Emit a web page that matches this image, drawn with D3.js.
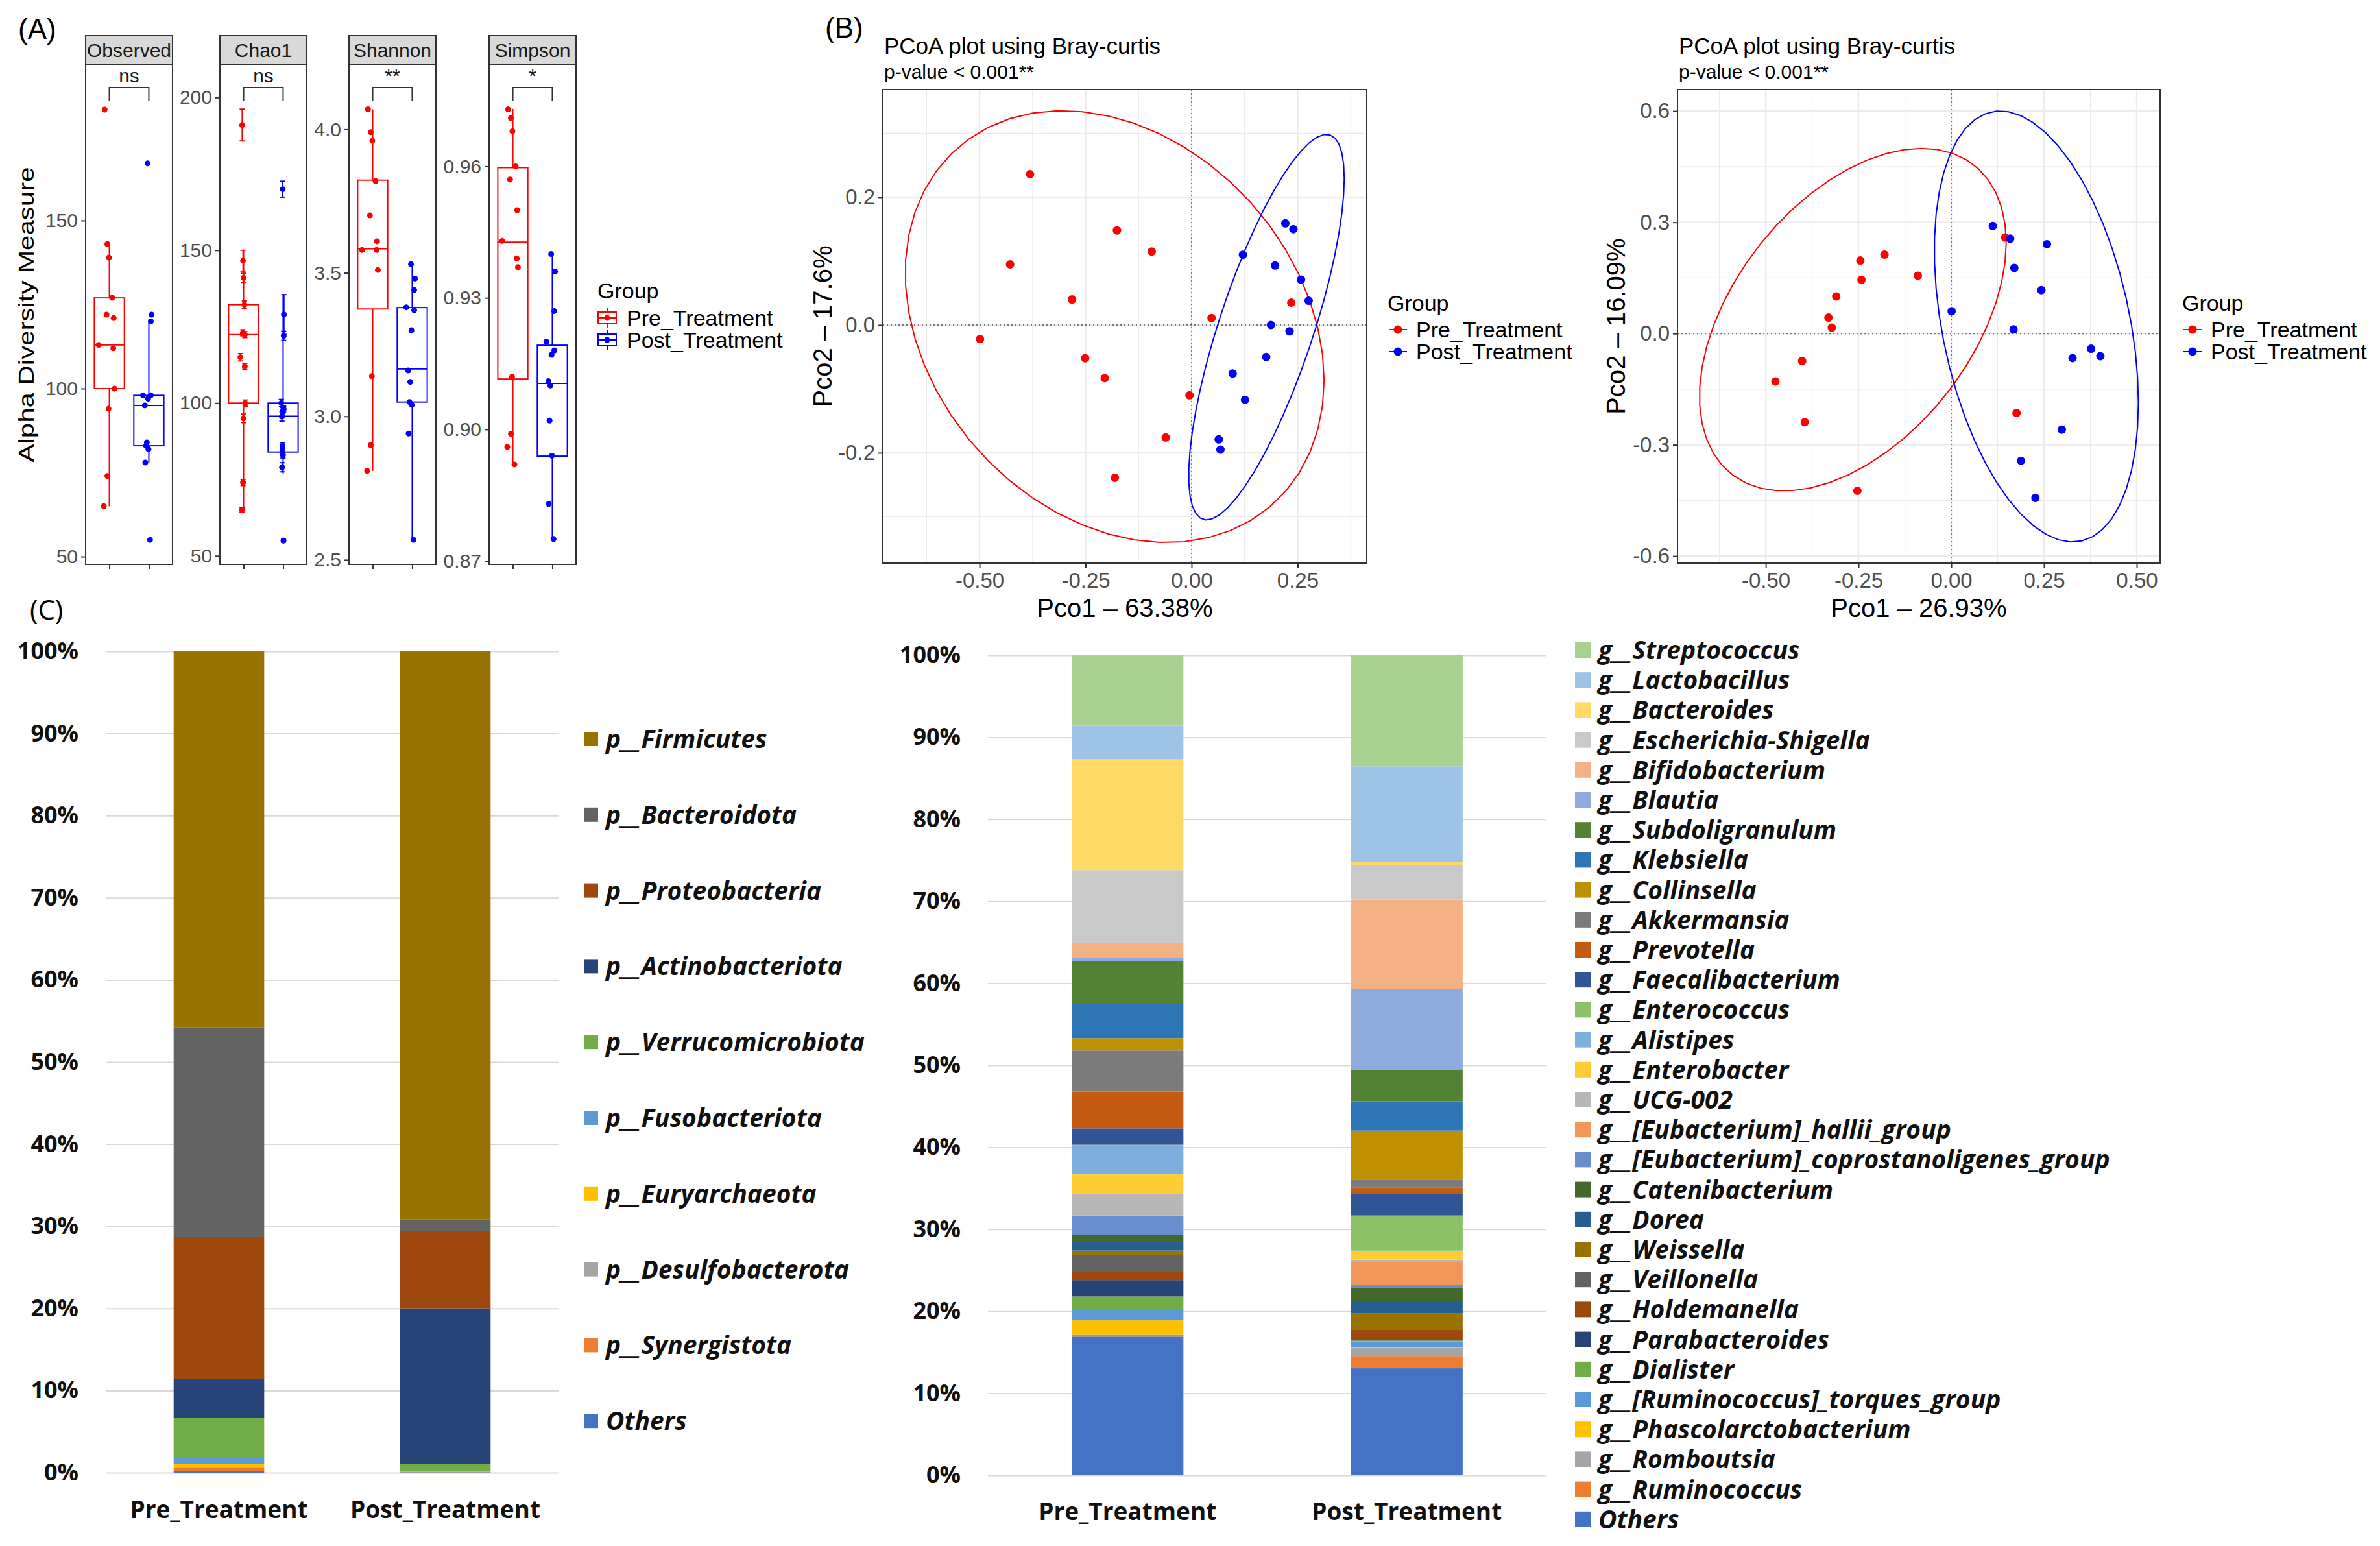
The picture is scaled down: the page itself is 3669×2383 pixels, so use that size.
<!DOCTYPE html>
<html>
<head>
<meta charset="utf-8">
<script src="https://cdn.jsdelivr.net/npm/d3@7/dist/d3.min.js"></script>
<style>
  body { margin: 0; background: #fff; }
  svg { display: block; }
</style>
</head>
<body>
<script>
// ---------- data ----------
var groups = ["Pre_Treatment", "Post_Treatment"];
var groupColors = ["#ff0000", "#0000ff"];

// (A) alpha diversity per sample
var alphaMetrics = ["Observed", "Chao1", "Shannon", "Simpson"];
var alphaSignif = ["ns", "ns", "**", "*"];

var observedPre = [183, 143, 139, 127, 122, 121, 113, 112, 100, 94, 74, 65];
var observedPost = [167, 122, 120, 98, 98, 97, 95, 84, 83, 82, 78, 55];
var chao1Pre = [191, 146.6, 141, 132.2, 123, 122.4, 115, 112, 100, 95, 74, 65];
var chao1Post = [170, 129, 122, 100, 98, 97.5, 95.6, 86, 84, 83, 79, 55];
var chao1SePre = [5.2, 3.4, 1.5, 1.2, 1.0, 1.0, 1.2, 1.0, 1.0, 1.4, 1.0, 0.8];
var chao1SePost = [2.6, 6.5, 1.5, 1.2, 1.0, 1.0, 1.5, 1.0, 1.2, 1.0, 1.5, 0.5];
var shannonPre = [4.07, 3.99, 3.96, 3.82, 3.70, 3.61, 3.58, 3.58, 3.51, 3.14, 2.90, 2.81];
var shannonPost = [3.53, 3.48, 3.44, 3.38, 3.37, 3.30, 3.16, 3.12, 3.05, 3.04, 2.94, 2.57];
var simpsonPre = [0.973, 0.971, 0.968, 0.960, 0.957, 0.950, 0.943, 0.939, 0.937, 0.912, 0.899, 0.896, 0.892];
var simpsonPost = [0.940, 0.936, 0.927, 0.920, 0.918, 0.917, 0.911, 0.910, 0.902, 0.894, 0.883, 0.875];
// horizontal jitter, in group-step units
var jitterPre = [-0.12, -0.05, -0.01, 0.07, -0.07, 0.11, -0.27, 0.10, 0.13, -0.02, -0.05, -0.14, 0.04];
var jitterPost = [-0.03, 0.07, 0.05, -0.15, 0.05, -0.02, -0.10, -0.05, -0.07, -0.01, -0.09, 0.03, 0.08];

// box stats: lower whisker, Q1, median, Q3, upper whisker
var observedBox = [[65, 100, 113, 127, 143], [78, 83, 95, 98, 120]];
var chao1Box = [[65, 100, 122.4, 132.2, 150], [77, 84, 95.7, 100, 135.6]];
var shannonBox = [[2.81, 3.374, 3.584, 3.823, 4.07], [2.566, 3.05, 3.165, 3.379, 3.53]];
var simpsonBox = [[0.8922, 0.9115, 0.9427, 0.9597, 0.9731], [0.8746, 0.8939, 0.9105, 0.9192, 0.9403]];

var alphaTicks = [[50, 100, 150], [50, 100, 150, 200], [2.5, 3.0, 3.5, 4.0], [0.87, 0.90, 0.93, 0.96]];

// (B) PCoA coordinates [Pco1, Pco2]
var pcoa1Pre = [[-0.381, 0.236], [-0.428, 0.095], [-0.499, -0.022], [-0.176, 0.148], [-0.094, 0.115], [-0.282, 0.040], [-0.251, -0.052], [-0.205, -0.083], [0.047, 0.011], [-0.005, -0.110], [-0.061, -0.176], [-0.181, -0.239], [0.235, 0.035]];
var pcoa1Post = [[0.121, 0.110], [0.097, -0.076], [0.126, -0.117], [0.064, -0.179], [0.068, -0.195], [0.221, 0.159], [0.240, 0.150], [0.197, 0.093], [0.258, 0.071], [0.276, 0.038], [0.187, 0.0], [0.231, -0.010], [0.176, -0.050]];
var pcoa2Pre = [[-0.474, -0.129], [-0.402, -0.074], [-0.395, -0.239], [-0.331, 0.043], [-0.322, 0.016], [-0.310, 0.100], [-0.245, 0.197], [-0.242, 0.145], [-0.180, 0.213], [-0.090, 0.156], [-0.253, -0.424], [0.145, 0.259], [0.176, -0.214]];
var pcoa2Post = [[0.112, 0.290], [0.159, 0.256], [0.170, 0.177], [0.243, 0.117], [0.001, 0.060], [0.168, 0.011], [0.188, -0.343], [0.227, -0.443], [0.258, 0.241], [0.327, -0.066], [0.377, -0.041], [0.402, -0.061], [0.298, -0.259]];

// (C) relative abundance, % (legend order, top of stack first)
var phylumNames = ["p__Firmicutes", "p__Bacteroidota", "p__Proteobacteria", "p__Actinobacteriota", "p__Verrucomicrobiota", "p__Fusobacteriota", "p__Euryarchaeota", "p__Desulfobacterota", "p__Synergistota", "Others"];
var phylumColors = ["#997300", "#636363", "#9e480e", "#264478", "#70ad47", "#5b9bd5", "#ffc000", "#a5a5a5", "#ed7d31", "#4472c4"];
var phylumPre = [45.8, 25.5, 17.3, 4.7, 4.9, 0.7, 0.4, 0.1, 0.4, 0.2];
var phylumPost = [69.2, 1.4, 9.4, 19.0, 0.9, 0.02, 0.01, 0.03, 0.02, 0.05];

var genusNames = ["g__Streptococcus", "g__Lactobacillus", "g__Bacteroides", "g__Escherichia-Shigella", "g__Bifidobacterium", "g__Blautia", "g__Subdoligranulum", "g__Klebsiella", "g__Collinsella", "g__Akkermansia", "g__Prevotella", "g__Faecalibacterium", "g__Enterococcus", "g__Alistipes", "g__Enterobacter", "g__UCG-002", "g__[Eubacterium]_hallii_group", "g__[Eubacterium]_coprostanoligenes_group", "g__Catenibacterium", "g__Dorea", "g__Weissella", "g__Veillonella", "g__Holdemanella", "g__Parabacteroides", "g__Dialister", "g__[Ruminococcus]_torques_group", "g__Phascolarctobacterium", "g__Romboutsia", "g__Ruminococcus", "Others"];
var genusColors = ["#a9d18e", "#9dc3e6", "#ffd966", "#c9c9c9", "#f4b183", "#8faadc", "#548235", "#2e75b6", "#bf9000", "#7b7b7b", "#c55a11", "#2f5597", "#8cc168", "#7cafdd", "#ffcd33", "#b7b7b7", "#f1975a", "#698ed0", "#43682b", "#255e91", "#997300", "#636363", "#9e480e", "#264478", "#70ad47", "#5b9bd5", "#ffc000", "#a5a5a5", "#ed7d31", "#4472c4"];
var genusPre = [8.6, 4.1, 13.5, 8.9, 1.8, 0.4, 5.2, 4.2, 1.5, 5.0, 4.5, 2.0, 0.1, 3.5, 2.4, 2.6, 0.1, 2.3, 0.9, 1.0, 0.5, 2.1, 1.0, 2.0, 1.7, 1.2, 1.7, 0.1, 0.2, 16.9];
var genusPost = [13.6, 11.7, 0.4, 4.2, 11.0, 9.9, 3.8, 3.6, 6.0, 1.0, 0.8, 2.6, 4.3, 0.1, 1.0, 0.2, 2.9, 0.4, 1.6, 1.5, 1.9, 0.1, 1.2, 0.1, 0.1, 0.7, 0.1, 1.0, 1.5, 13.1];

var percentTicks = [0, 0.1, 0.2, 0.3, 0.4, 0.5, 0.6, 0.7, 0.8, 0.9, 1];

// ---------- setup ----------
var W = 3669, H = 2383;
var gg = "'Liberation Sans', Arial, Helvetica, sans-serif";
var xl = "'Open Sans', Lato, sans-serif";

var svg = d3.select("body").append("svg")
  .attr("width", W).attr("height", H)
  .style("background", "#fff");

function hyphen(f) {
  return function(d) { return f(d).replace("\u2212", "-"); };
}

// panel letters
svg.append("text").attr("x", 28).attr("y", 60).text("(A)")
  .attr("font-family", gg).attr("font-size", 44);
svg.append("text").attr("x", 1272).attr("y", 58).text("(B)")
  .attr("font-family", gg).attr("font-size", 44);
svg.append("text").attr("x", 46).attr("y", 955).text("(C)")
  .attr("font-family", xl).attr("font-size", 42);

// ---------- (A) alpha diversity ----------
var alphaPanels = [
  { pre: observedPre, post: observedPost, box: observedBox, domain: [47.7, 196.5], fmt: "d" },
  { pre: chao1Pre, post: chao1Post, box: chao1Box, domain: [47.2, 210.9], fmt: "d", sePre: chao1SePre, sePost: chao1SePost },
  { pre: shannonPre, post: shannonPost, box: shannonBox, domain: [2.484, 4.227], fmt: ".1f" },
  { pre: simpsonPre, post: simpsonPost, box: simpsonBox, domain: [0.8692, 0.9833], fmt: ".2f" }
];
var alphaLeft = [132, 339, 538, 754], alphaW = 134;
var stripTop = 55, alphaTop = 99, alphaBottom = 870;

alphaPanels.forEach(function(p, i) {
  var x0 = alphaLeft[i];
  var g = svg.append("g");
  var x = d3.scalePoint().domain(groups).range([x0, x0 + alphaW]).padding(0.6);
  var y = d3.scaleLinear().domain(p.domain).range([alphaBottom, alphaTop]);
  var step = x.step();

  g.append("rect").attr("x", x0).attr("y", stripTop).attr("width", alphaW).attr("height", alphaTop - stripTop)
    .attr("fill", "#d9d9d9").attr("stroke", "#333").attr("stroke-width", 2);
  g.append("text").attr("x", x0 + alphaW / 2).attr("y", 88).attr("text-anchor", "middle")
    .attr("font-family", gg).attr("font-size", 30).attr("fill", "#1a1a1a").text(alphaMetrics[i]);
  g.append("rect").attr("x", x0).attr("y", alphaTop).attr("width", alphaW).attr("height", alphaBottom - alphaTop)
    .attr("fill", "#fff").attr("stroke", "#333").attr("stroke-width", 2);

  var ya = g.append("g").attr("transform", "translate(" + x0 + ",0)")
    .call(d3.axisLeft(y).tickValues(alphaTicks[i]).tickSize(7).tickPadding(5).tickFormat(hyphen(d3.format(p.fmt))));
  ya.select(".domain").remove();
  ya.selectAll("text").attr("font-family", gg).attr("font-size", 30).attr("fill", "#4d4d4d");
  ya.selectAll("line").attr("stroke", "#333").attr("stroke-width", 2);

  var xa = g.append("g").attr("transform", "translate(0," + alphaBottom + ")")
    .call(d3.axisBottom(x).tickSize(7).tickFormat(""));
  xa.select(".domain").remove();
  xa.selectAll("line").attr("stroke", "#333").attr("stroke-width", 2);

  groups.forEach(function(grp, gi) {
    var s = p.box[gi], cx = x(grp), bw = 0.76 * step, col = groupColors[gi];
    var bg = g.append("g").attr("stroke", col).attr("stroke-width", 2).attr("fill", "none");
    bg.append("line").attr("x1", cx).attr("x2", cx).attr("y1", y(s[3])).attr("y2", y(s[4]));
    bg.append("line").attr("x1", cx).attr("x2", cx).attr("y1", y(s[1])).attr("y2", y(s[0]));
    bg.append("rect").attr("x", cx - bw / 2).attr("width", bw).attr("y", y(s[3])).attr("height", y(s[1]) - y(s[3]));
    bg.append("line").attr("x1", cx - bw / 2).attr("x2", cx + bw / 2).attr("y1", y(s[2])).attr("y2", y(s[2]));

    var vals = gi === 0 ? p.pre : p.post;
    var jit = gi === 0 ? jitterPre : jitterPost;
    var se = gi === 0 ? p.sePre : p.sePost;
    var pts = vals.map(function(v, k) { return { v: v, dx: jit[k], se: se ? se[k] : 0 }; });
    if (se) {
      var eb = g.append("g").attr("stroke", col).attr("stroke-width", 2);
      pts.forEach(function(d) {
        var px = cx + d.dx * step * 0.3;
        eb.append("line").attr("x1", px).attr("x2", px).attr("y1", y(d.v - d.se)).attr("y2", y(d.v + d.se));
        eb.append("line").attr("x1", px - 4).attr("x2", px + 4).attr("y1", y(d.v - d.se)).attr("y2", y(d.v - d.se));
        eb.append("line").attr("x1", px - 4).attr("x2", px + 4).attr("y1", y(d.v + d.se)).attr("y2", y(d.v + d.se));
      });
    }
    g.selectAll(null).data(pts).enter().append("circle")
      .attr("cx", function(d) { return cx + d.dx * step * (se ? 0.3 : 1); })
      .attr("cy", function(d) { return y(d.v); })
      .attr("r", 4.5).attr("fill", col);
  });

  // significance bracket
  var by = 135;
  g.append("path").attr("d", "M" + x(groups[0]) + "," + (by + 20) + "V" + by + "H" + x(groups[1]) + "V" + (by + 20))
    .attr("fill", "none").attr("stroke", "#333").attr("stroke-width", 2);
  g.append("text").attr("x", (x(groups[0]) + x(groups[1])) / 2).attr("y", 127).attr("text-anchor", "middle")
    .attr("font-family", gg).attr("font-size", 30).attr("fill", "#1a1a1a").text(alphaSignif[i]);
});

svg.append("text").attr("transform", "translate(52,485) rotate(-90) scale(1,0.8)")
  .attr("text-anchor", "middle").attr("font-family", gg).attr("font-size", 42).text("Alpha Diversity Measure");

// legend (A)
(function() {
  var lg = svg.append("g").attr("font-family", gg);
  lg.append("text").attr("x", 921).attr("y", 460).attr("font-size", 34).text("Group");
  groups.forEach(function(grp, gi) {
    var cy = 490 + gi * 34, col = groupColors[gi];
    var k = lg.append("g").attr("stroke", col).attr("stroke-width", 2).attr("fill", "none");
    k.append("line").attr("x1", 936).attr("x2", 936).attr("y1", cy - 15).attr("y2", cy + 15);
    k.append("rect").attr("x", 922).attr("y", cy - 9).attr("width", 28).attr("height", 18).attr("fill", "#fff");
    k.append("line").attr("x1", 922).attr("x2", 950).attr("y1", cy).attr("y2", cy);
    lg.append("circle").attr("cx", 936).attr("cy", cy).attr("r", 4.5).attr("fill", col);
    lg.append("text").attr("x", 966).attr("y", cy + 12).attr("font-size", 34).text(grp);
  });
})();

// ---------- (B) PCoA ----------
// robust t ellipse as in ggplot2::stat_ellipse (MASS::cov.trob, level 0.95)
function ellipsePoints(pts) {
  var n = pts.length, p = 2, nu = 5;
  var loc = [d3.mean(pts, function(d) { return d[0]; }), d3.mean(pts, function(d) { return d[1]; })];
  var w = pts.map(function() { return 1; }), X;
  for (var it = 0; it < 25; it++) {
    var w0 = w.slice();
    X = pts.map(function(d) { return [d[0] - loc[0], d[1] - loc[1]]; });
    var sw = d3.sum(w), a = 0, b = 0, c = 0;
    X.forEach(function(v, i) { a += w[i] * v[0] * v[0] / sw; b += w[i] * v[0] * v[1] / sw; c += w[i] * v[1] * v[1] / sw; });
    var det = a * c - b * b;
    w = X.map(function(v) { return (nu + p) / (nu + (c * v[0] * v[0] - 2 * b * v[0] * v[1] + a * v[1] * v[1]) / det); });
    var sw2 = d3.sum(w);
    loc = [d3.sum(pts, function(d, i) { return w[i] * d[0]; }) / sw2, d3.sum(pts, function(d, i) { return w[i] * d[1]; }) / sw2];
    if (w.every(function(v, i) { return Math.abs(v - w0[i]) < 0.01; })) break;
  }
  var s11 = 0, s12 = 0, s22 = 0;
  X.forEach(function(v, i) { s11 += w[i] * v[0] * v[0] / n; s12 += w[i] * v[0] * v[1] / n; s22 += w[i] * v[1] * v[1] / n; });
  var r11 = Math.sqrt(s11), r12 = s12 / r11, r22 = Math.sqrt(s22 - r12 * r12);
  var dfd = n - 1, fq = dfd / 2 * (Math.pow(0.05, -2 / dfd) - 1);
  var rad = Math.sqrt(2 * fq);
  return d3.range(52).map(function(k) {
    var t = k * 2 * Math.PI / 51;
    return [loc[0] + rad * Math.cos(t) * r11, loc[1] + rad * (Math.cos(t) * r12 + Math.sin(t) * r22)];
  });
}

var pcoaPanels = [
  { id: "p1", left: 1361, right: 2107, xDomain: [-0.728, 0.413], yDomain: [-0.3726, 0.3685],
    xTicks: [-0.5, -0.25, 0, 0.25], yTicks: [-0.2, 0, 0.2], yFmt: ".1f",
    pre: pcoa1Pre, post: pcoa1Post, xLab: "Pco1 \u2013 63.38%", yLab: "Pco2 \u2013 17.6%", yLabX: 1282, legendX: 2139 },
  { id: "p2", left: 2586, right: 3330, xDomain: [-0.738, 0.563], yDomain: [-0.619, 0.658],
    xTicks: [-0.5, -0.25, 0, 0.25, 0.5], yTicks: [-0.6, -0.3, 0, 0.3, 0.6], yFmt: ".1f",
    pre: pcoa2Pre, post: pcoa2Post, xLab: "Pco1 \u2013 26.93%", yLab: "Pco2 \u2013 16.09%", yLabX: 2505, legendX: 3364 }
];
var pTop = 138, pBottom = 868;

pcoaPanels.forEach(function(c) {
  var g = svg.append("g");
  var x = d3.scaleLinear().domain(c.xDomain).range([c.left, c.right]);
  var y = d3.scaleLinear().domain(c.yDomain).range([pBottom, pTop]);

  g.append("text").attr("x", c.left + 2).attr("y", 83).attr("font-family", gg).attr("font-size", 35).text("PCoA plot using Bray-curtis");
  g.append("text").attr("x", c.left + 2).attr("y", 121).attr("font-family", gg).attr("font-size", 30).text("p-value < 0.001**");

  g.append("rect").attr("x", c.left).attr("y", pTop).attr("width", c.right - c.left).attr("height", pBottom - pTop).attr("fill", "#fff");

  function minor(ticks, dom) {
    var st = ticks[1] - ticks[0];
    return d3.range(ticks[0] - st * 2.5, dom[1], st).filter(function(v) { return v > dom[0] && v < dom[1]; });
  }
  var grid = g.append("g").attr("stroke", "#ebebeb");
  minor(c.xTicks, c.xDomain).forEach(function(v) {
    grid.append("line").attr("x1", x(v)).attr("x2", x(v)).attr("y1", pTop).attr("y2", pBottom).attr("stroke-width", 1.2);
  });
  minor(c.yTicks, c.yDomain).forEach(function(v) {
    grid.append("line").attr("y1", y(v)).attr("y2", y(v)).attr("x1", c.left).attr("x2", c.right).attr("stroke-width", 1.2);
  });
  c.xTicks.forEach(function(v) {
    grid.append("line").attr("x1", x(v)).attr("x2", x(v)).attr("y1", pTop).attr("y2", pBottom).attr("stroke-width", 2.4);
  });
  c.yTicks.forEach(function(v) {
    grid.append("line").attr("y1", y(v)).attr("y2", y(v)).attr("x1", c.left).attr("x2", c.right).attr("stroke-width", 2.4);
  });

  g.append("line").attr("x1", x(0)).attr("x2", x(0)).attr("y1", pTop).attr("y2", pBottom)
    .attr("stroke", "#777").attr("stroke-width", 2).attr("stroke-dasharray", "2,4");
  g.append("line").attr("y1", y(0)).attr("y2", y(0)).attr("x1", c.left).attr("x2", c.right)
    .attr("stroke", "#777").attr("stroke-width", 2).attr("stroke-dasharray", "2,4");

  svg.append("clipPath").attr("id", "clip-" + c.id).append("rect")
    .attr("x", c.left).attr("y", pTop).attr("width", c.right - c.left).attr("height", pBottom - pTop);

  var line = d3.line().x(function(d) { return x(d[0]); }).y(function(d) { return y(d[1]); }).curve(d3.curveLinear);
  [c.pre, c.post].forEach(function(pts, gi) {
    g.append("path").attr("d", line(ellipsePoints(pts))).attr("clip-path", "url(#clip-" + c.id + ")")
      .attr("fill", "none").attr("stroke", groupColors[gi]).attr("stroke-width", 2);
  });
  [c.pre, c.post].forEach(function(pts, gi) {
    g.selectAll(null).data(pts).enter().append("circle")
      .attr("cx", function(d) { return x(d[0]); }).attr("cy", function(d) { return y(d[1]); })
      .attr("r", 6.5).attr("fill", groupColors[gi]);
  });

  g.append("rect").attr("x", c.left).attr("y", pTop).attr("width", c.right - c.left).attr("height", pBottom - pTop)
    .attr("fill", "none").attr("stroke", "#333").attr("stroke-width", 2);

  var xa = g.append("g").attr("transform", "translate(0," + pBottom + ")")
    .call(d3.axisBottom(x).tickValues(c.xTicks).tickSize(7).tickPadding(8).tickFormat(hyphen(d3.format(".2f"))));
  var ya = g.append("g").attr("transform", "translate(" + c.left + ",0)")
    .call(d3.axisLeft(y).tickValues(c.yTicks).tickSize(7).tickPadding(5).tickFormat(hyphen(d3.format(c.yFmt))));
  [xa, ya].forEach(function(a) {
    a.select(".domain").remove();
    a.selectAll("text").attr("font-family", gg).attr("font-size", 33).attr("fill", "#4d4d4d");
    a.selectAll("line").attr("stroke", "#333").attr("stroke-width", 2);
  });

  g.append("text").attr("x", (c.left + c.right) / 2).attr("y", 951).attr("text-anchor", "middle")
    .attr("font-family", gg).attr("font-size", 40).text(c.xLab);
  g.append("text").attr("transform", "translate(" + c.yLabX + "," + (pTop + pBottom) / 2 + ") rotate(-90)")
    .attr("text-anchor", "middle").attr("font-family", gg).attr("font-size", 40).text(c.yLab);

  var lg = g.append("g").attr("font-family", gg);
  lg.append("text").attr("x", c.legendX).attr("y", 479).attr("font-size", 34).text("Group");
  groups.forEach(function(grp, gi) {
    var cy = 508 + gi * 34;
    lg.append("line").attr("x1", c.legendX + 2).attr("x2", c.legendX + 30).attr("y1", cy).attr("y2", cy)
      .attr("stroke", groupColors[gi]).attr("stroke-width", 2);
    lg.append("circle").attr("cx", c.legendX + 16).attr("cy", cy).attr("r", 6.5).attr("fill", groupColors[gi]);
    lg.append("text").attr("x", c.legendX + 44).attr("y", cy + 12).attr("font-size", 34).text(grp);
  });
});

// ---------- (C) stacked bars ----------
function drawStack(c) {
  var g = svg.append("g");
  var x = d3.scaleBand().domain(groups).range([c.left, c.right]).paddingInner(0.6).paddingOuter(0.3);
  var y = d3.scaleLinear().domain([0, 1]).range([c.bottom, c.top]);

  var rows = groups.map(function(grp, gi) {
    var r = { group: grp };
    c.names.forEach(function(n, i) { r[n] = (gi === 0 ? c.pre : c.post)[i]; });
    return r;
  });
  var color = d3.scaleOrdinal().domain(c.names).range(c.colors);
  var series = d3.stack().keys(c.names.slice().reverse()).offset(d3.stackOffsetExpand)(rows);

  var ya = g.append("g").attr("transform", "translate(" + c.left + ",0)")
    .call(d3.axisLeft(y).tickValues(percentTicks).tickSize(-(c.right - c.left)).tickPadding(42).tickFormat(d3.format(".0%")));
  ya.select(".domain").remove();
  ya.selectAll("line").attr("stroke", "#d9d9d9").attr("stroke-width", 2);
  ya.selectAll("text").attr("font-family", xl).attr("font-weight", 700).attr("font-size", 36).attr("fill", "#111");

  g.selectAll(null).data(series).enter().append("g")
    .attr("fill", function(s) { return color(s.key); })
    .selectAll("rect").data(function(s) { return s; }).enter().append("rect")
    .attr("x", function(d) { return x(d.data.group); })
    .attr("width", x.bandwidth())
    .attr("y", function(d) { return y(d[1]); })
    .attr("height", function(d) { return y(d[0]) - y(d[1]); });

  groups.forEach(function(grp) {
    g.append("text").attr("x", x(grp) + x.bandwidth() / 2).attr("y", c.labelY).attr("text-anchor", "middle")
      .attr("font-family", xl).attr("font-weight", 700).attr("font-size", 37).attr("fill", "#111").text(grp);
  });

  var lg = g.append("g");
  c.names.forEach(function(n, i) {
    var cy = c.legendY0 + i * c.legendStep;
    lg.append("rect").attr("x", c.legendX).attr("y", cy - c.sw / 2).attr("width", c.sw).attr("height", c.sw).attr("fill", color(n));
    lg.append("text").attr("x", c.legendX + c.sw + 12).attr("y", cy + 14)
      .attr("font-family", xl).attr("font-weight", 700).attr("font-style", "italic").attr("font-size", c.fs).attr("fill", "#111").text(n);
  });
}

drawStack({ names: phylumNames, colors: phylumColors, pre: phylumPre, post: phylumPost,
  left: 163, right: 861, top: 1004, bottom: 2270, labelY: 2340,
  legendX: 900, legendY0: 1139, legendStep: 116.8, sw: 22, fs: 39 });

drawStack({ names: genusNames, colors: genusColors, pre: genusPre, post: genusPost,
  left: 1523, right: 2384, top: 1010, bottom: 2274, labelY: 2343,
  legendX: 2428, legendY0: 1002, legendStep: 46.2, sw: 24, fs: 39 });
</script>
</body>
</html>
